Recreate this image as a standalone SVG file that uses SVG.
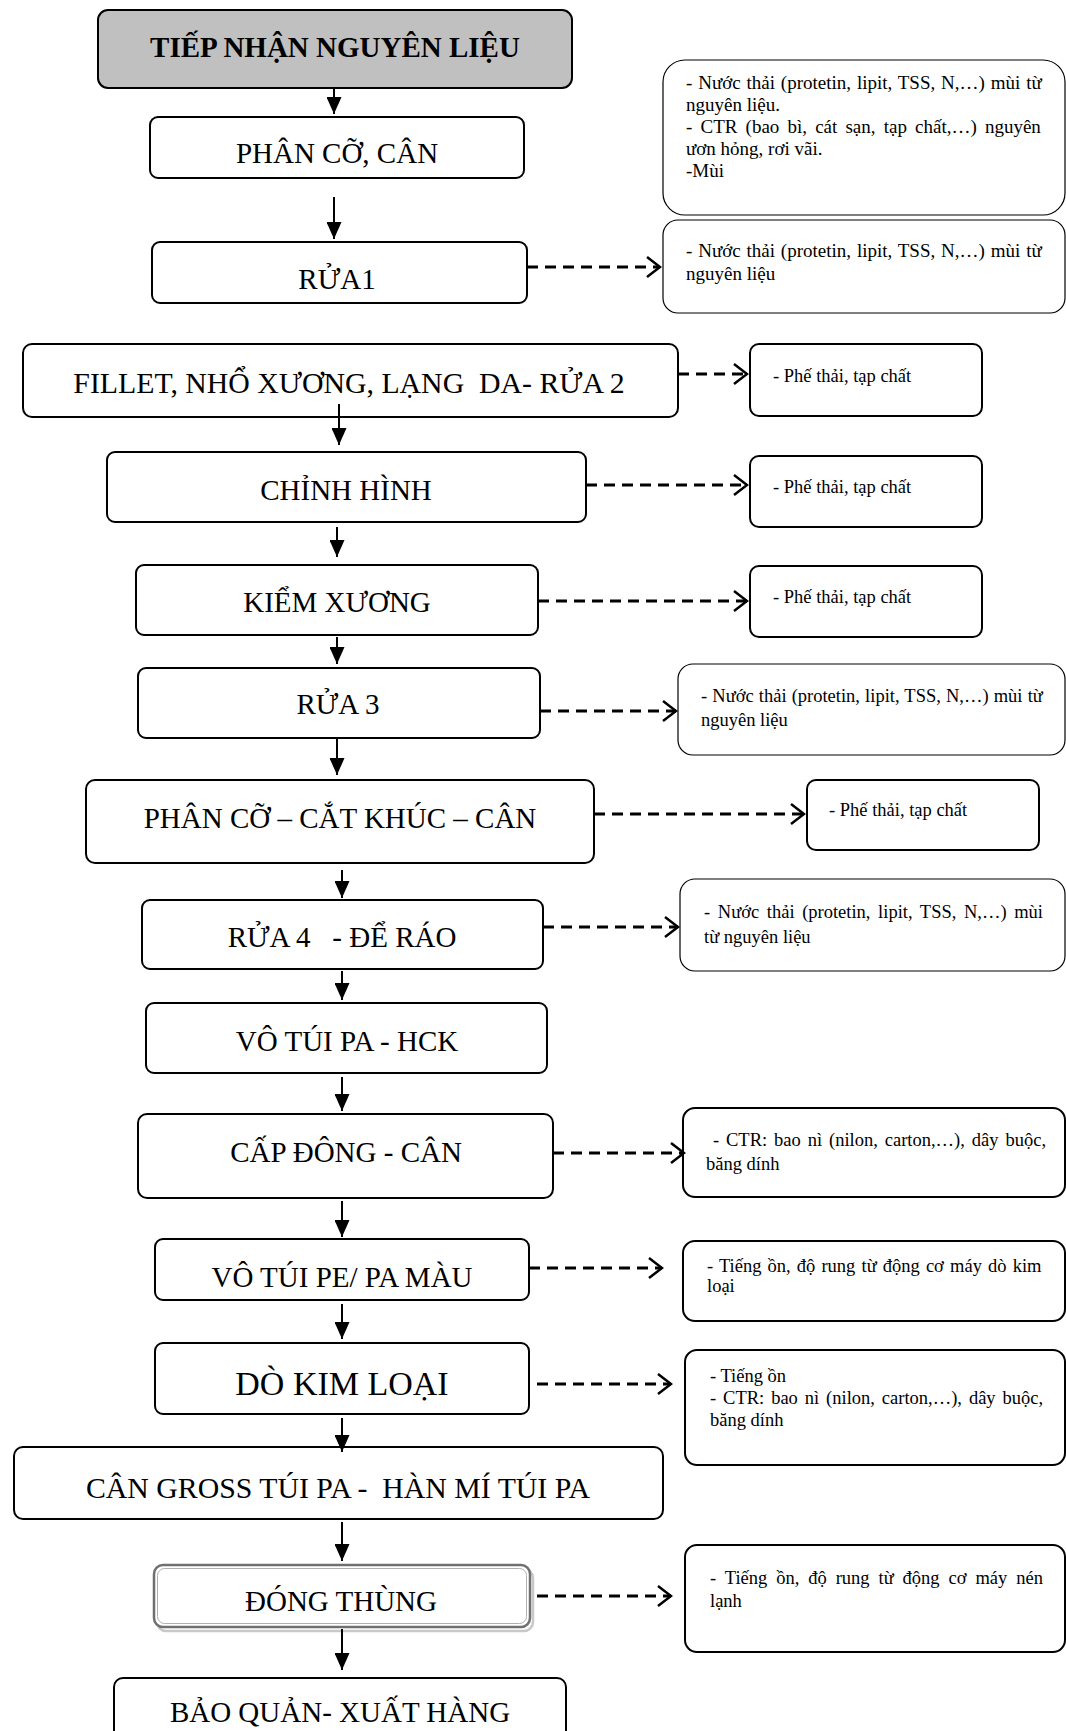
<svg xmlns="http://www.w3.org/2000/svg" width="1066" height="1731" viewBox="0 0 1066 1731">
  <style>
    .box { fill: #ffffff; stroke: #000000; stroke-width: 2; }
    .start { fill: #c0c0c0; stroke: #000000; stroke-width: 2; }
    .note { fill: #ffffff; stroke: #000000; stroke-width: 2; }
    .note-thin { fill: #ffffff; stroke: #000000; stroke-width: 1.2; }
    .step { font-family: "Liberation Serif", "Times New Roman", serif; font-size: 29px; fill: #000000; text-anchor: middle; }
    .title { font-weight: bold; }
    .big { font-size: 34px; }
    .wide { font-size: 29.8px; }
    .txt { font-family: "Liberation Serif", "Times New Roman", serif; font-size: 18.5px; fill: #000000; }
    .txt19 { font-size: 19px; }
    .flow { fill: none; stroke: #000000; stroke-width: 2; marker-end: url(#solid); }
    .waste { fill: none; stroke: #000000; stroke-width: 3; stroke-dasharray: 11 7; marker-end: url(#open); }
  </style>
  <defs>
    <marker id="solid" markerUnits="userSpaceOnUse" viewBox="0 0 17 15" markerWidth="17" markerHeight="15" refX="17" refY="7.5" orient="auto">
      <path d="M0,0 L17,7.5 L0,15 Z" fill="#000000"/>
    </marker>
    <marker id="open" markerUnits="userSpaceOnUse" viewBox="0 0 16 24" markerWidth="16" markerHeight="24" refX="14" refY="12" orient="auto">
      <path d="M1,2 L14,12 L1,22" fill="none" stroke="#000000" stroke-width="2.5"/>
    </marker>
  </defs>

  <rect width="1066" height="1731" fill="#ffffff"/>

  <!-- main process steps -->
  <g id="n-tiep-nhan">
    <rect class="start" x="98" y="10" width="474" height="78" rx="10"/>
    <text class="step title" x="335" y="57">TIẾP NHẬN NGUYÊN LIỆU</text>
  </g>
  <g id="n-phan-co-can">
    <rect class="box" x="150" y="117" width="374" height="61" rx="8"/>
    <text class="step" x="337" y="163">PHÂN CỠ, CÂN</text>
  </g>
  <g id="n-rua1">
    <rect class="box" x="152" y="242" width="375" height="61" rx="8"/>
    <text class="step" x="337" y="289">RỬA1</text>
  </g>
  <g id="n-fillet">
    <rect class="box" x="23" y="344" width="655" height="73" rx="9"/>
    <text class="step wide" x="349" y="393" xml:space="preserve">FILLET, NHỔ XƯƠNG, LẠNG  DA- RỬA 2</text>
  </g>
  <g id="n-chinh-hinh">
    <rect class="box" x="107" y="452" width="479" height="70" rx="8"/>
    <text class="step" x="346" y="500">CHỈNH HÌNH</text>
  </g>
  <g id="n-kiem-xuong">
    <rect class="box" x="136" y="565" width="402" height="70" rx="8"/>
    <text class="step" x="337" y="612">KIỂM XƯƠNG</text>
  </g>
  <g id="n-rua3">
    <rect class="box" x="138" y="668" width="402" height="70" rx="8"/>
    <text class="step" x="338" y="714">RỬA 3</text>
  </g>
  <g id="n-cat-khuc">
    <rect class="box" x="86" y="780" width="508" height="83" rx="9"/>
    <text class="step" x="340" y="828">PHÂN CỠ – CẮT KHÚC – CÂN</text>
  </g>
  <g id="n-rua4">
    <rect class="box" x="142" y="900" width="401" height="69" rx="8"/>
    <text class="step" x="342" y="947" xml:space="preserve">RỬA 4   - ĐỂ RÁO</text>
  </g>
  <g id="n-tui-pa">
    <rect class="box" x="146" y="1003" width="401" height="70" rx="8"/>
    <text class="step" x="347" y="1051">VÔ TÚI PA - HCK</text>
  </g>
  <g id="n-cap-dong">
    <rect class="box" x="138" y="1114" width="415" height="84" rx="9"/>
    <text class="step" x="346" y="1162">CẤP ĐÔNG - CÂN</text>
  </g>
  <g id="n-tui-pe">
    <rect class="box" x="155" y="1239" width="374" height="61" rx="8"/>
    <text class="step" x="342" y="1287">VÔ TÚI PE/ PA MÀU</text>
  </g>
  <g id="n-do-kim-loai">
    <rect class="box" x="155" y="1343" width="374" height="71" rx="8"/>
    <text class="step big" x="342" y="1395">DÒ KIM LOẠI</text>
  </g>
  <g id="n-can-gross">
    <rect class="box" x="14" y="1447" width="649" height="72" rx="9"/>
    <text class="step wide" x="338" y="1498" xml:space="preserve">CÂN GROSS TÚI PA -  HÀN MÍ TÚI PA</text>
  </g>
  <g id="n-dong-thung">
    <rect x="157" y="1569" width="376" height="62" rx="9" fill="none" stroke="#c8c8c8" stroke-width="2.5"/>
    <rect x="154" y="1565" width="376" height="62" rx="9" fill="#ffffff" stroke="#707070" stroke-width="2.5"/>
    <rect x="157.5" y="1568.5" width="369" height="55" rx="7" fill="none" stroke="#b0b0b0" stroke-width="1"/>
    <text class="step" x="341" y="1611">ĐÓNG THÙNG</text>
  </g>
  <g id="n-bao-quan">
    <rect class="box" x="114" y="1678" width="452" height="70" rx="9"/>
    <text class="step" x="340" y="1722">BẢO QUẢN- XUẤT HÀNG</text>
  </g>

  <!-- waste / emission notes -->
  <g id="w-tiep-nhan">
    <rect class="note-thin" x="663" y="60" width="402" height="155" rx="22"/>
    <text class="txt txt19" x="686" y="89" word-spacing="1.1">- Nước thải (protetin, lipit, TSS, N,…) mùi từ</text>
    <text class="txt txt19" x="686" y="111">nguyên liệu.</text>
    <text class="txt txt19" x="686" y="133" word-spacing="3.4">- CTR (bao bì, cát sạn, tạp chất,…) nguyên</text>
    <text class="txt txt19" x="686" y="155">ươn hỏng, rơi vãi.</text>
    <text class="txt txt19" x="686" y="177">-Mùi</text>
  </g>
  <g id="w-rua1">
    <rect class="note-thin" x="663" y="220" width="402" height="93" rx="15"/>
    <text class="txt txt19" x="686" y="257" word-spacing="1.1">- Nước thải (protetin, lipit, TSS, N,…) mùi từ</text>
    <text class="txt txt19" x="686" y="280">nguyên liệu</text>
  </g>
  <g id="w-fillet">
    <rect class="note" x="750" y="344" width="232" height="72" rx="9"/>
    <text class="txt" x="773" y="382">- Phế thải, tạp chất</text>
  </g>
  <g id="w-chinh-hinh">
    <rect class="note" x="750" y="456" width="232" height="71" rx="9"/>
    <text class="txt" x="773" y="493">- Phế thải, tạp chất</text>
  </g>
  <g id="w-kiem-xuong">
    <rect class="note" x="750" y="566" width="232" height="71" rx="9"/>
    <text class="txt" x="773" y="603">- Phế thải, tạp chất</text>
  </g>
  <g id="w-rua3">
    <rect class="note-thin" x="678" y="664" width="387" height="91" rx="15"/>
    <text class="txt" x="701" y="702" word-spacing="0.5">- Nước thải (protetin, lipit, TSS, N,…) mùi từ</text>
    <text class="txt" x="701" y="726">nguyên liệu</text>
  </g>
  <g id="w-cat-khuc">
    <rect class="note" x="807" y="780" width="232" height="70" rx="9"/>
    <text class="txt" x="829" y="816">- Phế thải, tạp chất</text>
  </g>
  <g id="w-rua4">
    <rect class="note-thin" x="680" y="879" width="385" height="92" rx="15"/>
    <text class="txt" x="704" y="918" word-spacing="3">- Nước thải (protetin, lipit, TSS, N,…) mùi</text>
    <text class="txt" x="704" y="943">từ nguyên liệu</text>
  </g>
  <g id="w-cap-dong">
    <rect class="note" x="683" y="1108" width="382" height="89" rx="12"/>
    <text class="txt" x="706" y="1146" word-spacing="2.3" xml:space="preserve"> - CTR: bao nì (nilon, carton,…), dây buộc,</text>
    <text class="txt" x="706" y="1170">băng dính</text>
  </g>
  <g id="w-tui-pe">
    <rect class="note" x="683" y="1241" width="382" height="80" rx="12"/>
    <text class="txt" x="707" y="1272" word-spacing="1.5">- Tiếng ồn, độ rung từ động cơ máy dò kim</text>
    <text class="txt" x="707" y="1292">loại</text>
  </g>
  <g id="w-do-kim-loai">
    <rect class="note" x="685" y="1350" width="380" height="115" rx="12"/>
    <text class="txt" x="710" y="1382">- Tiếng ồn</text>
    <text class="txt" x="710" y="1404" word-spacing="2.3">- CTR: bao nì (nilon, carton,…), dây buộc,</text>
    <text class="txt" x="710" y="1426">băng dính</text>
  </g>
  <g id="w-dong-thung">
    <rect class="note" x="685" y="1545" width="380" height="107" rx="12"/>
    <text class="txt" x="710" y="1584" word-spacing="4.3">- Tiếng ồn, độ rung từ động cơ máy nén</text>
    <text class="txt" x="710" y="1607">lạnh</text>
  </g>

  <!-- connectors -->
  <g id="connectors">
    <path class="flow" d="M334,88 V114"/>
    <path class="flow" d="M334,197 V239"/>
    <path class="flow" d="M339,404 V445"/>
    <path class="flow" d="M337,527 V557"/>
    <path class="flow" d="M337,637 V664"/>
    <path class="flow" d="M337,739 V775"/>
    <path class="flow" d="M342,870 V898"/>
    <path class="flow" d="M342,971 V1000"/>
    <path class="flow" d="M342,1077 V1111"/>
    <path class="flow" d="M342,1201 V1237"/>
    <path class="flow" d="M342,1304 V1339"/>
    <path class="flow" d="M342,1418 V1452"/>
    <path class="flow" d="M342,1522 V1561"/>
    <path class="flow" d="M342,1629 V1670"/>

    <path class="waste" d="M527,267 H660"/>
    <path class="waste" d="M678,374 H747"/>
    <path class="waste" d="M586,485 H747"/>
    <path class="waste" d="M538,601 H747"/>
    <path class="waste" d="M540,711 H676"/>
    <path class="waste" d="M594,814 H804"/>
    <path class="waste" d="M543,927 H678"/>
    <path class="waste" d="M553,1153 H684"/>
    <path class="waste" d="M529,1268 H662"/>
    <path class="waste" d="M537,1384 H671"/>
    <path class="waste" d="M537,1596 H671"/>
  </g>
</svg>
